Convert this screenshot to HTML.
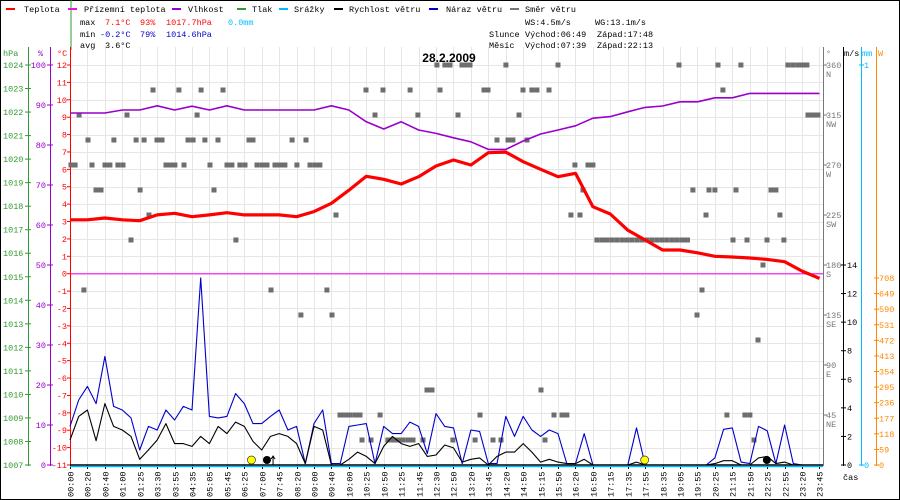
<!DOCTYPE html>
<html><head><meta charset="utf-8">
<style>
html,body{margin:0;padding:0;background:#fff}
svg{display:block;font-family:"Liberation Mono",monospace}
text{font-size:8.5px}
</style></head>
<body>
<svg id="chart" width="900" height="500" viewBox="0 0 900 500" xmlns="http://www.w3.org/2000/svg">
<rect x="0.5" y="0.5" width="899" height="499" fill="#fff" stroke="#000"/>
<g id="grid"></g>
<g id="legend">
 <g><rect x="6" y="8" width="9" height="2" fill="#f00"/><text x="24" y="12">Teplota</text></g>
 <g><rect x="68" y="8" width="9" height="2" fill="#f0f"/><text x="84" y="12">Přízemní teplota</text></g>
 <g><rect x="172" y="8" width="9" height="2" fill="#90c"/><text x="188" y="12">Vlhkost</text></g>
 <g><rect x="237" y="8" width="9" height="2" fill="#393"/><text x="252" y="12">Tlak</text></g>
 <g><rect x="279" y="8" width="9" height="2" fill="#0bf"/><text x="294" y="12">Srážky</text></g>
 <g><rect x="334" y="8" width="9" height="2" fill="#000"/><text x="349" y="12">Rychlost větru</text></g>
 <g><rect x="429" y="8" width="9" height="2" fill="#00c"/><text x="446" y="12">Náraz větru</text></g>
 <g><rect x="510" y="8" width="9" height="2" fill="#777"/><text x="525" y="12">Směr větru</text></g>
</g>
<g id="stats">
 <text x="80" y="25">max</text><text x="105" y="25" fill="#f00">7.1°C</text><text x="140" y="25" fill="#f00">93%</text><text x="166" y="25" fill="#f00">1017.7hPa</text><text x="228" y="25" fill="#0bf">0.0mm</text>
 <text x="80" y="37">min</text><text x="100" y="37" fill="#00c">-0.2°C</text><text x="140" y="37" fill="#00c">79%</text><text x="166" y="37" fill="#00c">1014.6hPa</text>
 <text x="80" y="48">avg</text><text x="105" y="48">3.6°C</text>
 <text x="525" y="25">WS:4.5m/s</text><text x="595" y="25">WG:13.1m/s</text>
 <text x="489" y="37">Slunce</text><text x="525" y="37">Východ:06:49</text><text x="597" y="37">Západ:17:48</text>
 <text x="489" y="48">Měsíc</text><text x="525" y="48">Východ:07:39</text><text x="597" y="48">Západ:22:13</text>
</g>
<text x="449" y="62" text-anchor="middle" style="font-size:12px;font-weight:bold;font-family:'Liberation Sans',sans-serif">28.2.2009</text>
<line x1="71" y1="0" x2="71" y2="50" stroke="#393"/>
<g id="axes"></g>
<g id="series"></g>
</svg>
<script>
// ---- data ----
const timeLabels = ["00:00","00:20","00:40","01:00","01:25","03:30","03:55","04:35","05:05","05:45","06:25","07:00","07:45","08:20","09:00","09:40","10:00","10:25","10:50","11:25","11:45","12:30","12:50","13:20","13:45","14:20","14:50","15:15","15:50","16:20","16:50","17:15","17:35","17:55","18:35","19:05","19:55","20:25","21:15","21:50","22:25","22:55","23:20","23:45"];
const temperature = [3.1,3.1,3.2,3.1,3.05,3.38,3.47,3.28,3.38,3.51,3.38,3.38,3.38,3.28,3.57,4.05,4.8,5.6,5.43,5.16,5.58,6.19,6.54,6.25,6.96,6.99,6.44,6.0,5.58,5.77,3.85,3.43,2.5,1.94,1.36,1.36,1.2,1.0,0.96,0.9,0.82,0.69,0.15,-0.27];
const humidity = [88,88,88,88.75,88.75,89.8,88.75,89.7,88.75,89.8,88.75,88.75,88.75,88.75,88.75,89.8,88.75,85.8,84,85.8,83.75,82.9,81.8,80.8,78.9,78.9,81,82.75,83.75,84.8,86.7,87.1,88.3,89.4,89.75,90.8,90.8,91.8,91.8,92.9,92.9,92.9,92.9,92.9];
const windGust = [2.7,4.55,5.5,4.3,7.6,4.1,3.85,3.3,1.05,2.7,2.45,3.85,3.15,4.1,3.85,13.1,3.4,3.3,3.4,5.0,4.3,2.9,2.9,3.4,3.85,2.45,2.7,0.1,2.9,3.85,0.1,0.1,2.7,2.8,2.9,0.1,2.7,2.2,2.2,3.0,2.7,0.8,3.6,2.7,2.6,
 0.1,2.45,2.35,0.1,0.1,3.4,2.0,3.4,2.45,2.0,2.45,2.2,0.1,0.1,2.2,
 0,0,0,0,0,2.6,0,0,0,0,0,0,0,0,0.5,2.5,2.6,0.2,0.1,2.7,2.4,0.1,2.8,0.1,0,0,0];
const windSpeed = [1.75,3.4,3.85,1.7,4.3,2.7,2.45,2.0,0.4,1.05,1.75,2.9,1.5,1.5,1.3,2.0,1.5,2.7,2.2,3.0,2.7,1.65,1.05,2.0,2.2,2.0,1.5,0.1,2.7,2.45,0,0,0.4,0.9,0.6,0.1,1.3,2.0,1.5,1.3,1.5,0.6,0.7,1.4,1.2,
 0.2,0.4,0.5,0,0.6,0.9,0.9,1.5,0.9,0.2,0.4,0.2,0.1,0.1,0.4,
 0,0,0,0,0,0.2,0,0,0,0,0,0,0,0,0.1,0.3,0.3,0,0,0.5,0.6,0.1,0.2,0,0,0,0];
const dirDegrees = [360,337.5,315,292.5,270,247.5,225,202.5,180,157.5,135,112.5,67.5,45,22.5];
const dirTimes = [
 [21.05,21.51,21.63,21.80,22.49,22.72,22.95,25.01,28.00,34.94,37.18,38.49,41.19,41.48,41.77,42.05,42.28],
 [4.76,6.25,7.52,8.78,16.98,17.96,19.51,21.23,23.75,23.98,25.99,26.50,26.79,27.48,37.46],
 [0.52,3.27,7.29,17.50,19.96,22.26,25.76,42.34,42.63,42.91],
 [1.03,2.52,3.79,4.25,4.99,5.28,6.77,7.06,7.74,8.49,10.27,10.50,12.74,13.54,24.50,25.13,25.41,26.22],
 [0.06,0.29,1.26,2.01,2.29,2.75,3.04,5.51,5.74,6.02,6.54,8.03,9.01,9.29,9.75,10.04,10.73,11.02,11.30,11.76,12.05,12.33,13.02,13.77,14.06,14.34,28.97,29.72,30.00],
 [1.49,1.78,4.02,8.26,29.43,35.74,36.66,37.00,38.21,40.22,40.50],
 [4.53,15.26,28.74,29.26,36.49,40.73],
 [3.50,9.52,30.23,30.52,30.81,31.10,31.39,31.68,31.96,32.25,32.54,32.83,33.12,33.41,33.70,33.99,34.27,34.56,34.85,35.14,35.43,38.04,38.84,39.99,40.96],
 [39.76],
 [0.80,11.53,14.74,36.26],
 [13.25,15.03,35.97],
 [39.47],
 [20.48,20.77,27.02],
 [15.49,15.78,16.06,16.35,16.64,17.79,23.52,27.77,28.23,28.51,37.69,38.72,39.01],
 [16.75,17.27,18.24,18.53,18.82,19.10,19.39,19.68,20.25,21.97,23.24,24.27,24.73,27.25,39.24]
];
const hPaTicks = [1024,1023,1022,1021,1020,1019,1018,1017,1016,1015,1014,1013,1012,1011,1010,1009,1008,1007];
const humTicks = [100,90,80,70,60,50,40,30,20,10,0];
const tempTicks = [12,11,10,9,8,7,6,5,4,3,2,1,0,-1,-2,-3,-4,-5,-6,-7,-8,-9,-10,-11];
const dirTicks = [360,315,270,225,180,135,90,45];
const dirNames = ["N","NW","W","SW","S","SE","E","NE"];
const msTicks = [14,12,10,8,6,4,2,0];
const wTicks = [708,649,590,531,472,413,354,295,236,177,118,59,0];
const sunMarks = [[10.41,"#ff0"],[32.97,"#ff0"]];
const moonMarks = [[11.3,"#000"],[39.98,"#000"]];

// ---- scales ----
const X0=70, SLOT=17.43, TOP=65, BOT=465;
const xT = t => X0 + t*SLOT;
const yTemp = v => TOP + (12-v)*(BOT-TOP)/23;
const yHum = h => BOT - h*(BOT-TOP)/100;
const yHpa = p => BOT - (p-1007)*(BOT-TOP)/17;
const yDir = d => BOT - d*(BOT-TOP)/360;
const yMs = v => BOT - v*200/14;
const yW = w => BOT - w*(BOT-278)/708;

const NS="http://www.w3.org/2000/svg";
function mk(parent, tag, attrs, txt){
  const e=document.createElementNS(NS,tag);
  for(const k in attrs) e.setAttribute(k,attrs[k]);
  if(txt!==undefined) e.textContent=txt;
  parent.appendChild(e); return e;
}
const grid=document.getElementById('grid'), axes=document.getElementById('axes'), series=document.getElementById('series');

tempTicks.forEach(v=>{
  const l=mk(grid,'line',{x1:X0,x2:823,y1:Math.round(yTemp(v))+0.5,y2:Math.round(yTemp(v))+0.5,stroke:'#e6e6e6'});
  
  
});
timeLabels.forEach((lab,i)=>{
  const x=Math.round(xT(i))+0.5;
  const l=mk(grid,'line',{x1:x,x2:x,y1:47,y2:BOT,stroke:'#e6e6e6'});
  
  
  const tk=mk(axes,'line',{x1:x,x2:x,y1:BOT,y2:BOT+4,stroke:'#000'});
  
  
  const t=mk(axes,'text',{x:0,y:0,transform:`translate(${x+3},497) rotate(-90)`},lab);
  
  
});
const zl=mk(grid,'line',{x1:X0,x2:823,y1:yTemp(0),y2:yTemp(0),stroke:'#f0f'});



function vaxis(x,color,y1,name){
  const l=mk(axes,'line',{x1:x+0.5,x2:x+0.5,y1:y1,y2:BOT+1,stroke:color});
  
  
}
vaxis(28,'#393',47,'hpa-axis'); vaxis(50,'#90c',47,'humidity-axis'); vaxis(70,'#f00',47,'temperature-axis');
hPaTicks.forEach(p=>{
  const y=yHpa(p);
  mk(axes,'line',{x1:25,x2:31,y1:y,y2:y,stroke:'#393'});
  const t=mk(axes,'text',{x:3,y:y+3,fill:'#393'},p);
  
  
});
humTicks.forEach(h=>{
  const y=yHum(h);
  mk(axes,'line',{x1:47,x2:53,y1:y,y2:y,stroke:'#90c'});
  const t=mk(axes,'text',{x:46,y:y+3,fill:'#90c','text-anchor':'end'},h);
  
  
});
tempTicks.forEach(v=>{
  const y=yTemp(v);
  mk(axes,'line',{x1:67,x2:71,y1:y,y2:y,stroke:'#f00'});
  const t=mk(axes,'text',{x:67,y:y+3,fill:'#f00','text-anchor':'end'},v);
  
  
});
[["hPa",3,'#393'],["%",38,'#90c'],["°C",57,'#f00']].forEach(a=>{
  const t=mk(axes,'text',{x:a[1],y:56,fill:a[2]},a[0]);
  
  
});
vaxis(823,'#777',47,'direction-axis'); vaxis(843,'#000',47,'wind-speed-axis'); vaxis(861,'#0bf',47,'rain-axis'); vaxis(876,'#f80',47,'solar-axis');
dirTicks.forEach((d,i)=>{
  const y=yDir(d);
  mk(axes,'line',{x1:823,x2:827,y1:y,y2:y,stroke:'#777'});
  const t=mk(axes,'text',{x:826,y:y+3,fill:'#777'},d);
  
  
  const n=mk(axes,'text',{x:826,y:y+12,fill:'#777'},dirNames[i]);
  
  
});
msTicks.forEach(v=>{
  const y=yMs(v);
  mk(axes,'line',{x1:841,x2:846,y1:y,y2:y,stroke:'#000'});
  const t=mk(axes,'text',{x:847,y:y+3},v);
  
  
});
[[1,65],[0,465]].forEach(a=>{
  mk(axes,'line',{x1:859,x2:864,y1:a[1],y2:a[1],stroke:'#0bf'});
  const t=mk(axes,'text',{x:864,y:a[1]+3,fill:'#0bf'},a[0]);
  
  
});
wTicks.forEach(w=>{
  const y=yW(w);
  mk(axes,'line',{x1:874,x2:879,y1:y,y2:y,stroke:'#f80'});
  const t=mk(axes,'text',{x:879,y:y+3,fill:'#f80'},w);
  
  
});
[["°",826,'#777'],["m/s",844,'#000'],["mm",862,'#0bf'],["W",878,'#f80']].forEach(a=>{
  const t=mk(axes,'text',{x:a[1],y:56,fill:a[2]},a[0]);
  
  
});
const cas=mk(axes,'text',{x:843,y:480},'čas');



function poly(vals,step,ys,color,w,name){
  const pts=vals.map((v,i)=>xT(i*step).toFixed(1)+','+ys(v).toFixed(1)).join(' ');
  const p=mk(series,'polyline',{points:pts,fill:'none',stroke:color,'stroke-width':w,'stroke-linejoin':'round'});
  
  
}
dirDegrees.forEach((d,gi)=>{
  dirTimes[gi].forEach(t=>{
    const r=mk(series,'rect',{x:(xT(t)-2.5).toFixed(1),y:(yDir(d)-2.5).toFixed(1),width:5,height:5,fill:'#6e6e6e'});
    
    
  });
});
poly(humidity,1,yHum,'#90c',1.6,'humidity-line');
poly(temperature,1,yTemp,'#f00',3.2,'temperature-line');
poly(windGust,0.5,yMs,'#00c',1.1,'wind-gust-line');
poly(windSpeed,0.5,yMs,'#000',1.1,'wind-speed-line');
const bl=mk(series,'line',{x1:X0,x2:823,y1:BOT,y2:BOT,stroke:'#000','stroke-width':1.5});


const rl=mk(series,'line',{x1:X0,x2:823,y1:BOT+1.5,y2:BOT+1.5,stroke:'#0bf','stroke-width':1.5});


sunMarks.forEach(m=>{
  const c=mk(series,'circle',{cx:xT(m[0]),cy:460,r:4,fill:m[1],stroke:'#333','stroke-width':0.7});
  
  
});
moonMarks.forEach(m=>{
  const c=mk(series,'circle',{cx:xT(m[0]),cy:460,r:4,fill:m[1]});
  
  
});
const ar=mk(series,'path',{d:`M${xT(11.65)},465 V456 M${xT(11.65)-2},459 L${xT(11.65)},456 L${xT(11.65)+2},459`,stroke:'#000',fill:'none'});


</script>
</body></html>
